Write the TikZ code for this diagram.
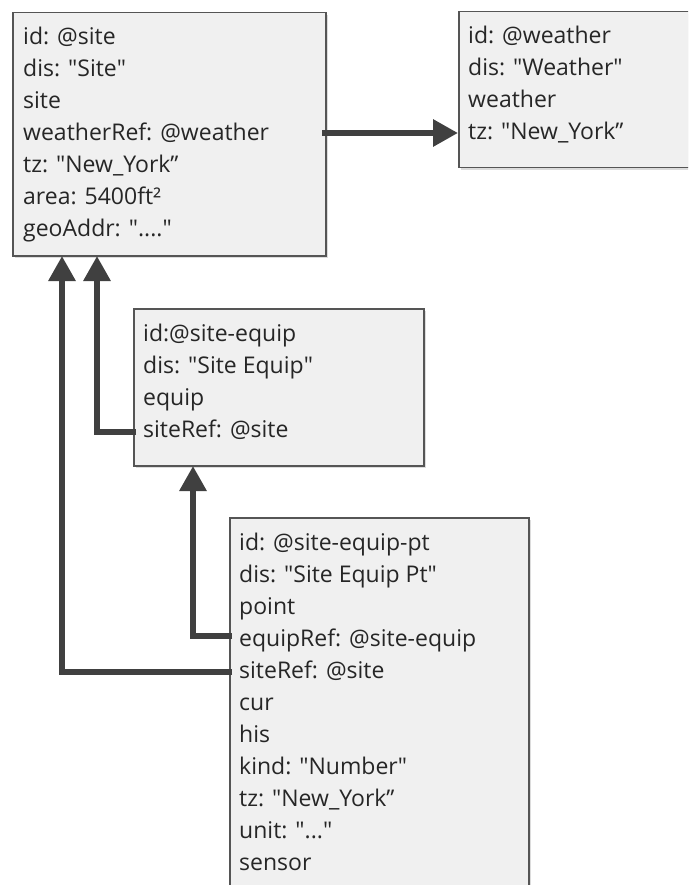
\documentclass[tikz,border=0pt]{standalone}
\usepackage{fontspec}
\setmainfont{Open Sans}
\usetikzlibrary{arrows.meta}
\definecolor{boxfill}{HTML}{F0F0F0}
\definecolor{boxline}{HTML}{555555}
\definecolor{arr}{HTML}{404040}
\definecolor{shade}{HTML}{DCDCDC}
\newcommand\dq{\textquotedbl}
\begin{document}
\begin{tikzpicture}[x=1pt,y=-1pt,
  rec/.style={draw=boxline, line width=1.5pt, fill=boxfill, rectangle, anchor=north west, inner sep=0pt},
  shadowbox/.style={fill=shade, rectangle, anchor=north west, inner sep=0pt, draw=none},
  txt/.style={anchor=north west, align=left, font=\fontsize{23}{32}\selectfont, inner sep=0pt, text=black!85},
  refline/.style={draw=arr, line width=6pt, -{Triangle[length=25pt,width=26pt]}}]
\useasboundingbox (0,0) rectangle (688,885);
\clip (0,0) rectangle (688,885);
\fill[white] (0,0) rectangle (688,885);

% shadows
\node[shadowbox, minimum width=313pt, minimum height=243pt] (siteS) at (15,15) {};
\node[shadowbox, minimum width=240pt, minimum height=156pt] (weatherS) at (461,14) {};
\node[shadowbox, minimum width=290pt, minimum height=157pt] (equipS) at (136,311) {};
\node[shadowbox, minimum width=299pt, minimum height=400pt] (ptS) at (232,520) {};

% boxes
\node[rec, minimum width=313pt, minimum height=243pt] (site) at (12,12) {};
\node[rec, minimum width=240pt, minimum height=156pt] (weather) at (458,11) {};
\node[rec, minimum width=290pt, minimum height=157pt] (equip) at (133,308) {};
\node[rec, minimum width=299pt, minimum height=400pt] (pt) at (229,517) {};

% texts
\node[txt] (siteT) at (23,26.5) {id: @site\\dis: \dq Site\dq\\site\\weatherRef: @weather\\tz: \dq New\_York”\\area: 5400ft²\\geoAddr: \dq....\dq};
\node[txt] (weatherT) at (468,25.5) {id: @weather\\dis: \dq Weather\dq\\weather\\tz: \dq New\_York”};
\node[txt] (equipT) at (143,323.5) {id:@site-equip\\dis: \dq Site Equip\dq\\equip\\siteRef: @site};
\node[txt] (ptT) at (239,532.5) {id: @site-equip-pt\\dis: \dq Site Equip Pt\dq\\point\\equipRef: @site-equip\\siteRef: @site\\cur\\his\\kind: \dq Number\dq\\tz: \dq New\_York”\\unit: \dq...\dq\\sensor};

% connector end points
\coordinate (wrA) at (322,133);
\coordinate (esrA) at (136,432);
\coordinate (perA) at (232,636);
\coordinate (psrA) at (232,672);
\coordinate (siteIn1) at (62,256);
\coordinate (siteIn2) at (97,256);
\coordinate (equipIn) at (193,466);

% connectors
\draw[refline] (wrA) -- (weather.west |- wrA);
\draw[refline] (esrA) -| (siteIn2);
\draw[refline] (perA) -| (equipIn);
\draw[refline] (psrA) -| (siteIn1);
\end{tikzpicture}
\end{document}
